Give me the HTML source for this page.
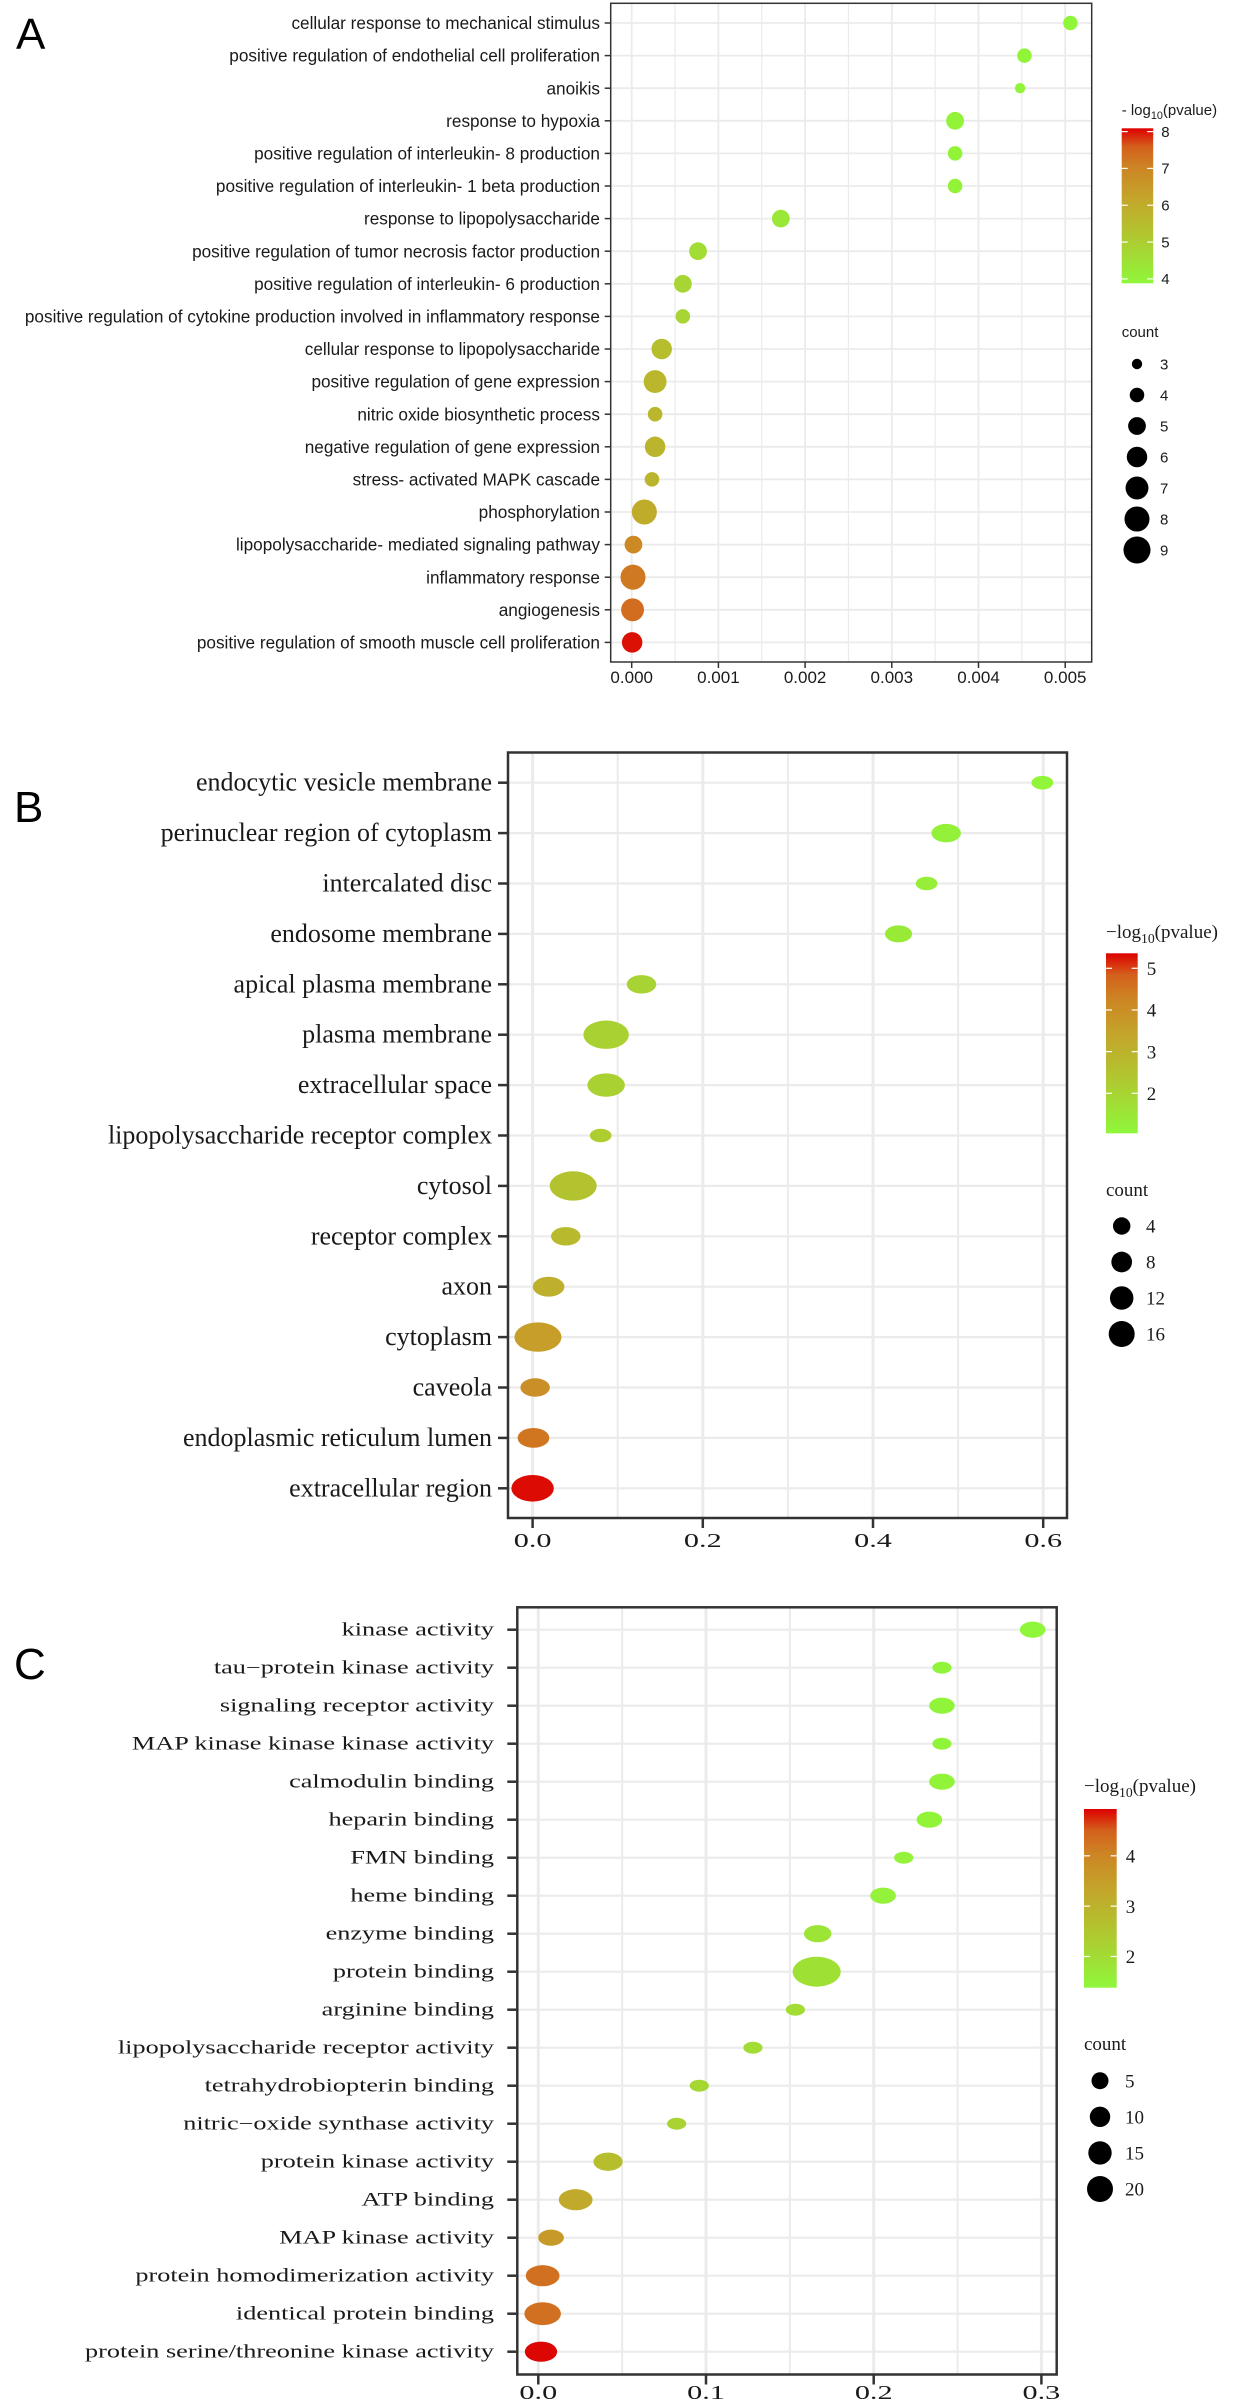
<!DOCTYPE html>
<html><head><meta charset="utf-8">
<style>
html,body{margin:0;padding:0;background:#fff;}
svg{display:block;}
</style></head>
<body>
<svg id="fig" width="1236" height="2405" viewBox="0 0 1236 2405" xmlns="http://www.w3.org/2000/svg">
<defs>
<linearGradient id="cbar" x1="0" y1="1" x2="0" y2="0">
<stop offset="0" stop-color="#8FF73A"/><stop offset="0.3" stop-color="#B0C830"/><stop offset="0.55" stop-color="#C4A52A"/><stop offset="0.75" stop-color="#CD8424"/><stop offset="0.88" stop-color="#D4601C"/><stop offset="1" stop-color="#DD0000"/>
</linearGradient>
</defs>
<text x="16" y="49" font-family="Liberation Sans, sans-serif" font-size="44">A</text>
<text x="14" y="822" font-family="Liberation Sans, sans-serif" font-size="44">B</text>
<text x="14" y="1679" font-family="Liberation Sans, sans-serif" font-size="44">C</text>
</svg>
<script>
// ---------- Panel A data (Biological process) ----------
const aTerms = ["cellular response to mechanical stimulus","positive regulation of endothelial cell proliferation","anoikis","response to hypoxia","positive regulation of interleukin- 8 production","positive regulation of interleukin- 1 beta production","response to lipopolysaccharide","positive regulation of tumor necrosis factor production","positive regulation of interleukin- 6 production","positive regulation of cytokine production involved in inflammatory response","cellular response to lipopolysaccharide","positive regulation of gene expression","nitric oxide biosynthetic process","negative regulation of gene expression","stress- activated MAPK cascade","phosphorylation","lipopolysaccharide- mediated signaling pathway","inflammatory response","angiogenesis","positive regulation of smooth muscle cell proliferation"];
const aValues = [0.00506,0.00453,0.00448,0.00373,0.00373,0.00373,0.00172,0.000765,0.00059,0.00059,0.000346,0.00027,0.00027,0.00027,0.000234,0.000146,0.00002,0.000015,0.00001,0.000005];
const aLogP = [3.9,3.95,3.95,4.0,4.0,4.0,4.3,4.6,4.8,4.8,5.45,5.65,5.65,5.7,5.7,6.0,6.9,7.2,7.4,8.0];
const aCount = [4,4,3,5,4,4,5,5,5,4,6,7,4,6,4,8,5,8,7,6];
const aTicks = [0,0.001,0.002,0.003,0.004,0.005];
const aTickLabels = ["0.000","0.001","0.002","0.003","0.004","0.005"];
const aColorTicks = [4,5,6,7,8];
const aSizeBreaks = [3,4,5,6,7,8,9];

// ---------- Panel B data (Cellular component) ----------
const bTerms = ["endocytic vesicle membrane","perinuclear region of cytoplasm","intercalated disc","endosome membrane","apical plasma membrane","plasma membrane","extracellular space","lipopolysaccharide receptor complex","cytosol","receptor complex","axon","cytoplasm","caveola","endoplasmic reticulum lumen","extracellular region"];
const bValues = [0.599,0.486,0.463,0.43,0.128,0.0864,0.0864,0.080,0.0477,0.039,0.0188,0.0063,0.003,0.001,0.0];
const bLogP = [1.1,1.2,1.3,1.4,2.0,2.1,2.1,2.2,2.5,2.8,3.1,3.6,4.0,4.5,5.3];
const bCount = [2,5,2,4,5,14,9,2,15,5,6,15,5,6,12];
const bTicks = [0,0.2,0.4,0.6];
const bTickLabels = ["0.0","0.2","0.4","0.6"];
const bColorTicks = [2,3,4,5];
const bSizeBreaks = [4,8,12,16];

// ---------- Panel C data (Molecular function) ----------
const cTerms = ["kinase activity","tau\u2212protein kinase activity","signaling receptor activity","MAP kinase kinase kinase activity","calmodulin binding","heparin binding","FMN binding","heme binding","enzyme binding","protein binding","arginine binding","lipopolysaccharide receptor activity","tetrahydrobiopterin binding","nitric\u2212oxide synthase activity","protein kinase activity","ATP binding","MAP kinase activity","protein homodimerization activity","identical protein binding","protein serine/threonine kinase activity"];
const cValues = [0.2948,0.2407,0.2407,0.2407,0.2407,0.2332,0.2179,0.2056,0.1666,0.166,0.1533,0.128,0.096,0.0825,0.0416,0.0223,0.0076,0.0026,0.0026,0.0016];
const cLogP = [1.4,1.42,1.42,1.42,1.45,1.45,1.5,1.5,1.8,1.9,2.0,2.0,2.1,2.2,2.7,3.2,3.6,4.3,4.3,4.9];
const cCount = [5,2,5,2,5,5,2,5,6,22,2,2,2,2,7,10,5,10,12,9];
const cTicks = [0,0.1,0.2,0.3];
const cTickLabels = ["0.0","0.1","0.2","0.3"];
const cColorTicks = [2,3,4];
const cSizeBreaks = [5,10,15,20];

const NS = "http://www.w3.org/2000/svg";
const svg = document.getElementById("fig");
const STOPS = [[0,[143,247,58]],[0.3,[176,200,48]],[0.55,[196,165,42]],[0.75,[205,132,36]],[0.88,[212,96,28]],[1,[221,0,0]]];
function colorAt(t){
  t=Math.max(0,Math.min(1,t));
  for(let i=1;i<STOPS.length;i++){
    if(t<=STOPS[i][0]){
      const a=STOPS[i-1],b=STOPS[i],f=(t-a[0])/(b[0]-a[0]);
      const c=a[1].map((v,k)=>Math.round(v+(b[1][k]-v)*f));
      return "rgb("+c.join(",")+")";
    }
  }
  return "rgb(221,0,0)";
}
function mk(tag, attrs, parent){
  const e=document.createElementNS(NS,tag);
  for(const k in attrs) e.setAttribute(k,attrs[k]);
  (parent||svg).appendChild(e);
  return e;
}

function drawPanel(P, terms, values, logp, counts, ticks, tickLabels, colorTicks, sizeBreaks){
  const g=mk("g",{});
  
  
  const xs=v=>P.x0+v*P.xPer;
  const ys=i=>P.row1+i*P.rowStep;
  const minors=[];
  for(let i=0;i<ticks.length;i++){
    const step=ticks[1]-ticks[0];
    minors.push(ticks[i]+step/2);
    if(i===0) minors.push(ticks[0]-step/2);
  }
  minors.forEach(v=>{
    const x=xs(v); if(x<=P.left+1||x>=P.right-1) return;
    const l=mk("line",{x1:x,x2:x,y1:P.top,y2:P.bottom,stroke:"#EBEBEB","stroke-width":P.gMinor},g);
    
    
  });
  ticks.forEach(v=>{
    const x=xs(v);
    const l=mk("line",{x1:x,x2:x,y1:P.top,y2:P.bottom,stroke:"#EBEBEB","stroke-width":P.gMajor},g);
    
    
  });
  terms.forEach((t,i)=>{
    const y=ys(i);
    const l=mk("line",{x1:P.left,x2:P.right,y1:y,y2:y,stroke:"#EBEBEB","stroke-width":P.gRow},g);
    
    
  });
  const cmin=P.cmin,cmax=P.cmax;
  terms.forEach((t,i)=>{
    const ry=P.size(counts[i]), rx=ry*P.aspect;
    const e=mk("ellipse",{cx:xs(values[i]),cy:ys(i),rx:rx,ry:ry,fill:colorAt((logp[i]-cmin)/(cmax-cmin))},g);
    
    
  });
  const b=mk("rect",{x:P.left,y:P.top,width:P.right-P.left,height:P.bottom-P.top,fill:"none",stroke:"#333","stroke-width":P.bw},g);
  
  
  terms.forEach((t,i)=>{
    const y=ys(i);
    const tk=mk("line",{x1:P.left-P.tickLen,x2:P.left,y1:y,y2:y,stroke:"#333","stroke-width":P.bw},g);
    
    
    const tx=mk("text",{"text-anchor":"end","font-family":P.font,"font-size":P.labelSize,fill:"#1a1a1a",
      transform:"translate("+P.labelX+","+(y+P.labelDy)+") scale("+P.labelScale+",1)"},g);
    tx.textContent=t;
    
    
  });
  ticks.forEach((v,i)=>{
    const x=xs(v);
    const tk=mk("line",{x1:x,x2:x,y1:P.bottom,y2:P.bottom+P.tickLen,stroke:"#333","stroke-width":P.bw},g);
    
    
    const tx=mk("text",{"text-anchor":"middle","font-family":P.font,"font-size":P.tickSize,fill:"#1a1a1a",
      transform:"translate("+x+","+P.tickY+") scale("+P.tickScale+",1)"},g);
    tx.textContent=tickLabels[i];
    
    
  });
  const L=P.leg;
  const title=mk("text",{x:L.x,y:L.titleY,"font-family":P.font,"font-size":L.fs,fill:"#1a1a1a"},g);
  
  
  const t1=mk("tspan",{},title); t1.textContent=L.prefix+"log";
  const t2=mk("tspan",{"font-size":L.fs*0.72,dy:L.fs*0.25},title); t2.textContent="10";
  const t3=mk("tspan",{dy:-L.fs*0.25},title); t3.textContent="(pvalue)";
  const cb=mk("rect",{x:L.x,y:L.barTop,width:L.barW,height:L.barBot-L.barTop,fill:"url(#cbar)"},g);
  
  
  const vy=v=>L.barBot-(v-cmin)/(cmax-cmin)*(L.barBot-L.barTop);
  colorTicks.forEach(v=>{
    const y=vy(v);
    [[L.x,L.x+6],[L.x+L.barW-6,L.x+L.barW]].forEach(p=>{
      const l=mk("line",{x1:p[0],x2:p[1],y1:y,y2:y,stroke:"#fff","stroke-width":1.2},g);
      
      
    });
    const tx=mk("text",{x:L.x+L.barW+L.lblGap,y:y+L.fs*0.35,"font-family":P.font,"font-size":L.fs,fill:"#1a1a1a"},g);
    tx.textContent=String(v);
    
    
  });
  const ct=mk("text",{x:L.x,y:L.countY,"font-family":P.font,"font-size":L.fs,fill:"#1a1a1a"},g);
  ct.textContent="count";
  
  
  sizeBreaks.forEach((s,i)=>{
    const y=L.size0+i*L.sizeStep;
    const c=mk("circle",{cx:L.cx,cy:y,r:L.size(s),fill:"#000"},g);
    
    
    const tx=mk("text",{x:L.sizeLblX,y:y+L.fs*0.35,"font-family":P.font,"font-size":L.fs,fill:"#1a1a1a"},g);
    tx.textContent=String(s);
    
    
  });
}

const SANS="Liberation Sans, Arial, sans-serif", SERIF="Liberation Serif, Times New Roman, serif";

drawPanel({name:"panel-a-biological-process",left:610.7,right:1091.7,top:3.3,bottom:662,row1:23,rowStep:32.6,
  x0:631.7,xPer:86700,gMajor:1.8,gMinor:1.2,gRow:1.8,bw:1.5,tickLen:6,
  font:SANS,labelSize:17.2,labelX:600,labelDy:6.1,labelScale:1,tickSize:17,tickY:683,tickScale:1,
  cmin:3.88,cmax:8.09,aspect:1,size:c=>Math.sqrt(27+26*(c-3)),
  leg:{x:1121.7,titleY:115,fs:15,prefix:"- ",barTop:128.3,barBot:283.3,barW:31.5,lblGap:8,countY:337,
    size0:364,sizeStep:31,cx:1137,sizeLblX:1160,size:c=>Math.sqrt(27+26*(c-3))}},
  aTerms,aValues,aLogP,aCount,aTicks,aTickLabels,aColorTicks,aSizeBreaks);

drawPanel({name:"panel-b-cellular-component",left:508,right:1067,top:752.5,bottom:1518,row1:782.7,rowStep:50.4,
  x0:532.6,xPer:851,gMajor:3,gMinor:2,gRow:2.2,bw:2.5,tickLen:10,
  font:SERIF,labelSize:26,labelX:492,labelDy:8,labelScale:1,tickSize:19.5,tickY:1547,tickScale:1.55,
  cmin:1.04,cmax:5.36,aspect:1.6,size:c=>Math.sqrt(20+13*c),
  leg:{x:1106,titleY:938,fs:19,prefix:"\u2212",barTop:953.3,barBot:1133.3,barW:31.7,lblGap:9,countY:1196,
    size0:1226,sizeStep:36,cx:1121.7,sizeLblX:1146,size:c=>Math.sqrt(45+7.75*c)}},
  bTerms,bValues,bLogP,bCount,bTicks,bTickLabels,bColorTicks,bSizeBreaks);

drawPanel({name:"panel-c-molecular-function",left:517.3,right:1056.7,top:1607.3,bottom:2374.5,row1:1629.7,rowStep:38,
  x0:538.3,xPer:1677,gMajor:3,gMinor:2,gRow:2.2,bw:2.5,tickLen:10,
  font:SERIF,labelSize:18.5,labelX:494,labelDy:6,labelScale:1.42,tickSize:19.5,tickY:2399,tickScale:1.55,
  cmin:1.38,cmax:4.93,aspect:1.6,size:c=>Math.sqrt(17+9.45*c),
  leg:{x:1084,titleY:1792,fs:19,prefix:"\u2212",barTop:1809,barBot:1987.7,barW:32.7,lblGap:9,countY:2050,
    size0:2080.7,sizeStep:36.1,cx:1100,sizeLblX:1125,size:c=>Math.sqrt(40+6.45*c)}},
  cTerms,cValues,cLogP,cCount,cTicks,cTickLabels,cColorTicks,cSizeBreaks);
</script>
</body></html>
